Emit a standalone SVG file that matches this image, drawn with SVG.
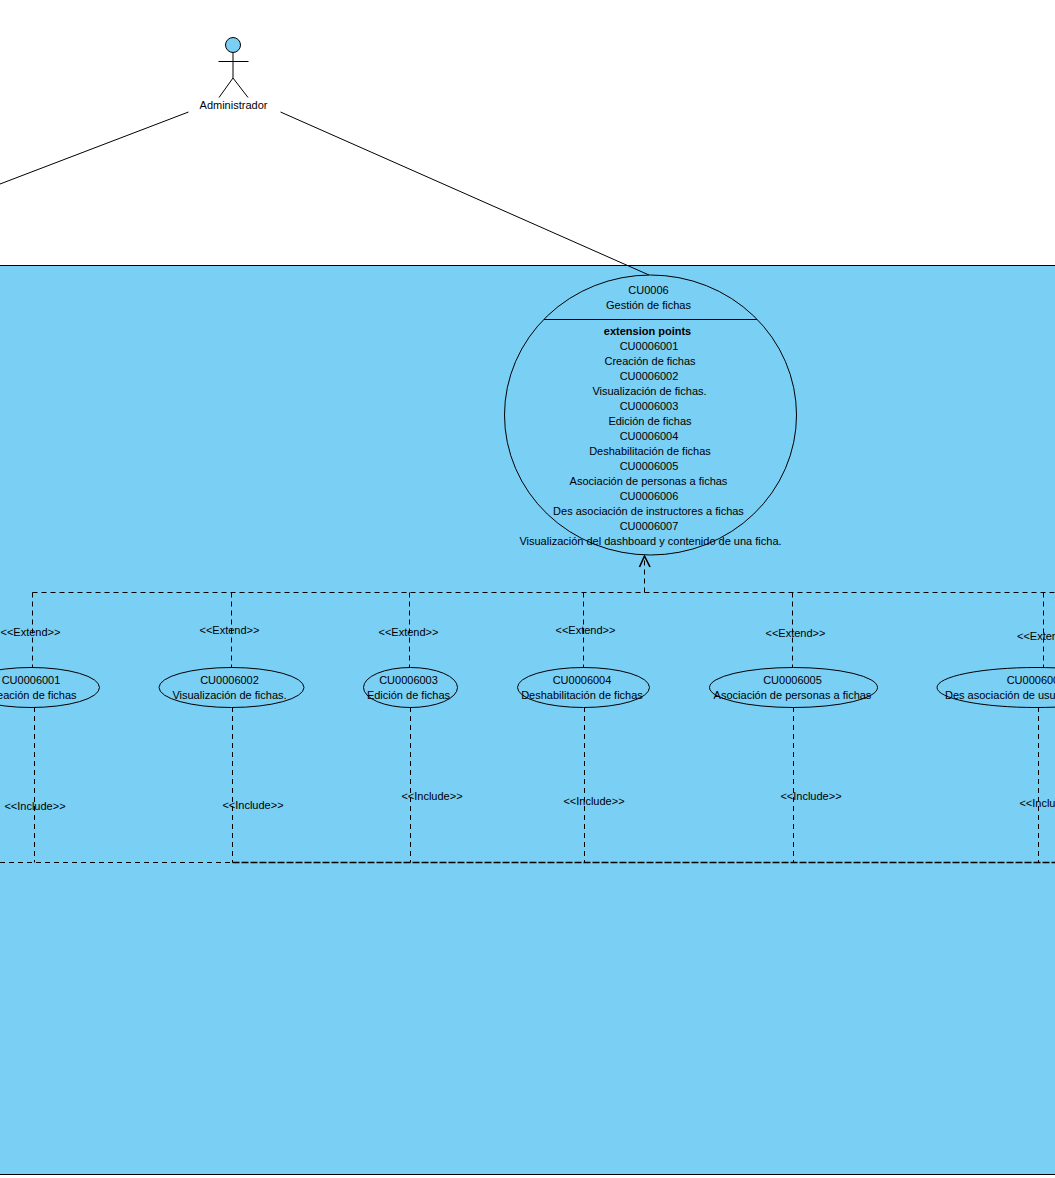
<svg xmlns="http://www.w3.org/2000/svg" width="1055" height="1178" viewBox="0 0 1055 1178">
<style>
text{font-family:"Liberation Sans",Arial,sans-serif;font-size:11px;fill:#000;text-anchor:middle}
.b{font-weight:bold}
.s{fill:none;stroke:#000;stroke-width:1}
.h{fill:none;stroke:#000;stroke-width:1.6}
.d{fill:none;stroke:#000;stroke-width:1;stroke-dasharray:5 4}
.t{fill:none;stroke:#000;stroke-width:1.3;stroke-dasharray:7 2}
.u{fill:#7acff5;stroke:#000;stroke-width:1}
</style>
<rect width="1055" height="1178" fill="#fff"/>
<rect id="system-boundary" x="-2" y="265.500" width="1060" height="909" fill="#7acff5" stroke="#000"/>
<g id="actor-administrador">
<circle cx="233" cy="45" r="7.500" class="u"/>
<path class="s" d="M233 52.500V78M218.500 61.500H248.500M233 78L219 97.500M233 78L248 97.500"/>
<text x="233.500" y="109">Administrador</text>
</g>
<g id="connectors">
<path class="s" d="M188.500 112L0 184M280.500 112L649 275"/>
<path class="d" d="M644.500 592.500V558"/>
<path class="h" d="M639.500 567L644.500 556L650 567"/>
<path class="d" d="M32.500 592.500H1055M32.500 592.500V668M231.500 592.500V668M409.500 592.500V668M583.500 592.500V668M792.500 592.500V668M1043.500 592.500V668"/>
<path class="d" d="M34.500 707V862.500M232.500 707V862.500M410.500 707V862.500M584.500 707V862.500M793.500 707V862.500M1038.500 707V862.500"/>
<path class="d" d="M0 862.500H232"/>
<path class="t" d="M232.500 862.500H1055"/>
</g>
<g id="uc-cu0006">
<ellipse cx="650.500" cy="415" rx="146" ry="140" class="u"/>
<path class="s" d="M544 319.500H757"/>
<text x="648.500" y="294">CU0006</text>
<text x="648.500" y="309">Gestión de fichas</text>
<text x="647.500" y="335" class="b">extension points</text>
<text x="649" y="350">CU0006001</text>
<text x="650" y="365">Creación de fichas</text>
<text x="649" y="380">CU0006002</text>
<text x="649.500" y="395">Visualización de fichas.</text>
<text x="649" y="410">CU0006003</text>
<text x="650" y="425">Edición de fichas</text>
<text x="649" y="440">CU0006004</text>
<text x="650" y="455">Deshabilitación de fichas</text>
<text x="649" y="470">CU0006005</text>
<text x="648.500" y="485">Asociación de personas a fichas</text>
<text x="649" y="500">CU0006006</text>
<text x="648.500" y="515">Des asociación de instructores a fichas</text>
<text x="649" y="530">CU0006007</text>
<text x="650.500" y="545">Visualización del dashboard y contenido de una ficha.</text>
</g>
<g id="uc-cu0006001">
<ellipse cx="31" cy="687.500" rx="68.500" ry="20" class="u"/>
<text x="31" y="684">CU0006001</text>
<text x="31" y="699">Creación de fichas</text>
</g>
<g id="uc-cu0006002">
<ellipse cx="231.500" cy="687.500" rx="72.500" ry="20" class="u"/>
<text x="229.500" y="684">CU0006002</text>
<text x="229.500" y="699">Visualización de fichas.</text>
</g>
<g id="uc-cu0006003">
<ellipse cx="410.500" cy="687.500" rx="47" ry="20" class="u"/>
<text x="408.500" y="684">CU0006003</text>
<text x="408.500" y="699">Edición de fichas</text>
</g>
<g id="uc-cu0006004">
<ellipse cx="583.500" cy="687.500" rx="66" ry="20" class="u"/>
<text x="582" y="684">CU0006004</text>
<text x="582" y="699">Deshabilitación de fichas</text>
</g>
<g id="uc-cu0006005">
<ellipse cx="793.500" cy="687.500" rx="84" ry="20" class="u"/>
<text x="792.500" y="684">CU0006005</text>
<text x="792.500" y="699">Asociación de personas a fichas</text>
</g>
<g id="uc-cu0006006">
<ellipse cx="1036" cy="687.500" rx="99" ry="20" class="u"/>
<text x="1036" y="684">CU0006006</text>
<text x="945" y="699" style="text-anchor:start">Des asociación de usu</text>
</g>
<g id="labels">
<text x="30.500" y="636">&lt;&lt;Extend&gt;&gt;</text>
<text x="229.500" y="634">&lt;&lt;Extend&gt;&gt;</text>
<text x="408.500" y="636">&lt;&lt;Extend&gt;&gt;</text>
<text x="585.500" y="634">&lt;&lt;Extend&gt;&gt;</text>
<text x="795.500" y="637">&lt;&lt;Extend&gt;&gt;</text>
<text x="1047" y="640">&lt;&lt;Extend&gt;&gt;</text>
<text x="35" y="810">&lt;&lt;Include&gt;&gt;</text>
<text x="253" y="809">&lt;&lt;Include&gt;&gt;</text>
<text x="432" y="800">&lt;&lt;Include&gt;&gt;</text>
<text x="594" y="805">&lt;&lt;Include&gt;&gt;</text>
<text x="811" y="800">&lt;&lt;Include&gt;&gt;</text>
<text x="1050" y="807">&lt;&lt;Include&gt;&gt;</text>
</g>
</svg>
